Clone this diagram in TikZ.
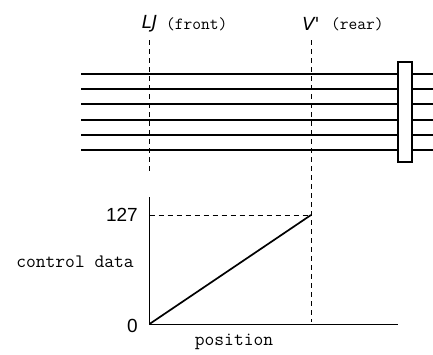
\documentclass[tikz,border=0pt]{standalone}
\usepackage{fontspec}
\newfontfamily\digitfont{Liberation Sans}
\newfontfamily\markfont{DejaVu Sans}
\begin{document}
\begin{tikzpicture}[x=1pt,y=-1pt,
  guide/.style={dashed,dash pattern=on 5pt off 4pt,line width=0.8pt},
  string/.style={line width=1.7pt},
  axis/.style={line width=0.9pt},
  lbl/.style={inner sep=0pt,font=\ttfamily\fontsize{17}{17}\selectfont},
  axlbl/.style={inner sep=0pt,font=\ttfamily\fontsize{19}{19}\selectfont},
  numlbl/.style={inner sep=0pt,font=\digitfont\fontsize{19}{19}\selectfont},
  glyph/.style={inner sep=0pt,font=\markfont\itshape\fontsize{18}{18}\selectfont}]
\useasboundingbox (0,0) rectangle (433,354);
% labels at top
\node[glyph] (U) at (149.5,24) {LJ};
\node[lbl,anchor=west] (front) at (166,24.5) {(front)};
\node[glyph] (V) at (311,24) {V'};
\node[lbl,anchor=west] (rear) at (331,24.5) {(rear)};
% guide coordinates
\coordinate (ftop) at (149,40);
\coordinate (fbot) at (149,173);
\coordinate (rtop) at (311,40);
\coordinate (rbot) at (311,322);
% strings
\foreach \y [count=\i] in {74,89,104,120,135,150}{
  \coordinate (sl\i) at (81,\y);
  \coordinate (sr\i) at (433,\y);
  \draw[string] (sl\i) -- (sr\i);
}
\node[draw,fill=white,line width=1.2pt,minimum width=14pt,minimum height=100pt,inner sep=0pt] (bridge) at (405,112) {};
% dashed guides
\draw[guide] (ftop) -- (fbot);
\draw[guide] (rtop) -- (rbot);
% graph
\coordinate (O) at (149.5,324);
\coordinate (ytop) at (149.5,197);
\coordinate (xend) at (398,324);
\coordinate (P) at (311,215);
\coordinate (Py) at (149.5,215);
\draw[axis] (ytop) -- (O) -- (xend);
\draw[guide] (Py) -- (P);
\draw[line width=1.7pt] (O) -- (P);
\node[numlbl,anchor=east] (n127) at (138,215) {127};
\node[numlbl,anchor=east] (n0) at (138,326) {0};
\node[axlbl] (cd) at (75,262) {control data};
\node[axlbl] (pos) at (234,342) {position};
\end{tikzpicture}
\end{document}
